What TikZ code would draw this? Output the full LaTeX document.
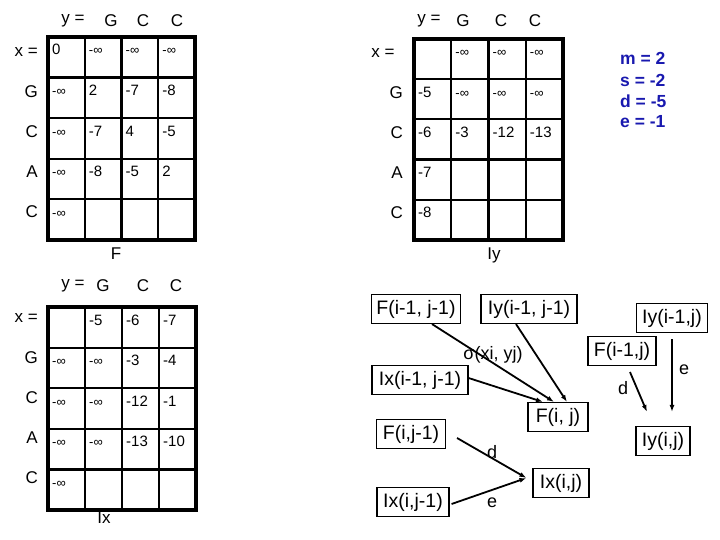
\documentclass[tikz,border=0pt]{standalone}
\usepackage{fontspec}
\setmainfont{Liberation Sans}
\usetikzlibrary{arrows.meta}
\definecolor{parblue}{RGB}{25,25,175}
\newcommand{\ninf}{{\fontsize{13}{15}\selectfont -∞}}
\tikzset{
  gridline/.style={line width=2.2pt},
  gridframe/.style={line width=3.2pt},
  cellval/.style={anchor=base west, inner sep=0pt, font=\fontsize{15}{17}\selectfont},
  axislabel/.style={inner sep=0pt, font=\fontsize{17}{20}\selectfont},
  recbox/.style={draw, line width=1.1pt, inner sep=2pt, minimum height=29pt, font=\fontsize{19.5}{22}\selectfont},
  steplabel/.style={inner sep=0pt, font=\fontsize{18}{21}\selectfont},
  param/.style={anchor=west, inner sep=0pt, text=parblue, font=\bfseries\fontsize{17.5}{20}\selectfont}
}
\begin{document}
\begin{tikzpicture}[x=1pt,y=-1pt,>={Latex[length=7pt,width=5pt]}]
        \useasboundingbox (0,0) rectangle (720,540);

        % matrix F
        \begin{scope}[shift={(48,37)}]
                \def\cw{36.75}\def\ch{40.6}
                \foreach \c in {1,2,3}
                        \draw[gridline] (\c*\cw,0) -- (\c*\cw,5*\ch);
                \foreach \r in {1,...,4}
                        \draw[gridline] (0,\r*\ch) -- (4*\cw,\r*\ch);
                \draw[gridframe] (0,0) rectangle (4*\cw,5*\ch);
                \foreach \r/\c/\v in {
                    0/0/0, 0/1/\ninf, 0/2/\ninf, 0/3/\ninf,
                    1/0/\ninf, 1/1/2, 1/2/-7, 1/3/-8,
                    2/0/\ninf, 2/1/-7, 2/2/4, 2/3/-5,
                    3/0/\ninf, 3/1/-8, 3/2/-5, 3/3/2,
                    4/0/\ninf}
                        \node[cellval] (f\r\c) at (\c*\cw+4,\r*\ch+18) {\v};
        \end{scope}
        \foreach \x/\l in {73/y =, 111/G, 143/C, 177/C}
                \node[axislabel] (fy\x) at (\x,21) {\l};
        \foreach \y/\l in {52/x =, 92/G, 132/C, 172/A, 212/C}
                \node[axislabel, anchor=east] (fx\y) at (38,\y) {\l};
        \node[axislabel] (ftitle) at (116,254) {F};

        % matrix Iy
        \begin{scope}[shift={(414,39)}]
                \def\cw{37.25}\def\ch{40.2}
                \foreach \c in {1,2,3}
                        \draw[gridline] (\c*\cw,0) -- (\c*\cw,5*\ch);
                \foreach \r in {1,...,4}
                        \draw[gridline] (0,\r*\ch) -- (4*\cw,\r*\ch);
                \draw[gridframe] (0,0) rectangle (4*\cw,5*\ch);
                \foreach \r/\c/\v in {
                    0/1/\ninf, 0/2/\ninf, 0/3/\ninf,
                    1/0/-5, 1/1/\ninf, 1/2/\ninf, 1/3/\ninf,
                    2/0/-6, 2/1/-3, 2/2/-12, 2/3/-13,
                    3/0/-7,
                    4/0/-8}
                        \node[cellval] (iy\r\c) at (\c*\cw+4,\r*\ch+18) {\v};
        \end{scope}
        \foreach \x/\l in {429/y =, 463/G, 501/C, 535/C}
                \node[axislabel] (iyy\x) at (\x,21) {\l};
        \node[axislabel] (iyx) at (383,53) {x =};
        \foreach \y/\l in {93/G, 133/C, 173/A, 213/C}
                \node[axislabel, anchor=east] (iyx\y) at (403,\y) {\l};
        \node[axislabel] (iytitle) at (494,255) {Iy};

        % scoring parameters
        \foreach \y/\l in {58/m = 2, 80/s = -2, 101/d = -5, 122/e = -1}
                \node[param] (p\y) at (620,\y) {\l};

        % matrix Ix
        \begin{scope}[shift={(48,307)}]
                \def\cw{37}\def\ch{40.6}
                \foreach \c in {1,2,3}
                        \draw[gridline] (\c*\cw,0) -- (\c*\cw,5*\ch);
                \foreach \r in {1,...,4}
                        \draw[gridline] (0,\r*\ch) -- (4*\cw,\r*\ch);
                \draw[gridframe] (0,0) rectangle (4*\cw,5*\ch);
                \foreach \r/\c/\v in {
                    0/1/-5, 0/2/-6, 0/3/-7,
                    1/0/\ninf, 1/1/\ninf, 1/2/-3, 1/3/-4,
                    2/0/\ninf, 2/1/\ninf, 2/2/-12, 2/3/-1,
                    3/0/\ninf, 3/1/\ninf, 3/2/-13, 3/3/-10,
                    4/0/\ninf}
                        \node[cellval] (ix\r\c) at (\c*\cw+4,\r*\ch+18) {\v};
        \end{scope}
        \foreach \x/\l in {73/y =, 103/G, 143/C, 176/C}
                \node[axislabel] (ixy\x) at (\x,286) {\l};
        \foreach \y/\l in {318/x =, 358/G, 398/C, 438/A, 478/C}
                \node[axislabel, anchor=east] (ixx\y) at (38,\y) {\l};
        \node[axislabel] (ixtitle) at (104,518) {Ix};

        % recurrence boxes
        \node[recbox, minimum width=89pt] (fa)   at (416,309) {F(i-1, j-1)};
        \node[recbox, minimum width=96pt] (iya)  at (529,309) {Iy(i-1, j-1)};
        \node[recbox, minimum width=71pt] (iyb)  at (672,318) {Iy(i-1,j)};
        \node[recbox, minimum width=68pt] (fb)   at (622,351) {F(i-1,j)};
        \node[recbox, minimum width=96pt] (ixa)  at (420,380) {Ix(i-1, j-1)};
        \node[recbox, minimum width=60pt] (fij)  at (558,417) {F(i, j)};
        \node[recbox, minimum width=69pt] (fc)   at (411,434) {F(i,j-1)};
        \node[recbox, minimum width=54pt] (iyij) at (663,441) {Iy(i,j)};
        \node[recbox, minimum width=56pt] (ixij) at (561,483) {Ix(i,j)};
        \node[recbox, minimum width=72pt] (ixb)  at (413,502) {Ix(i,j-1)};

        % arrows into F(i,j)
        \draw[->, line width=1.8pt] ([shift={(16,0)}]fa.south) -- ([shift={(-4,0)}]fij.north);
        \draw[->, line width=1.8pt] ([shift={(-13,0)}]iya.south) -- ([shift={(9,0)}]fij.north);
        \draw[->, line width=1.8pt] ([shift={(0,-2)}]ixa.east) -- ([shift={(-15,0)}]fij.north);
        \node[steplabel] (sig) at (493,355) {σ(xi, yj)};

        % arrows into Iy(i,j)
        \draw[->, line width=1.8pt] ([shift={(8,6)}]fb.south) -- ([shift={(-16,-14)}]iyij.north);
        \draw[->, line width=1.8pt] ([shift={(0,6)}]iyb.south) -- ([shift={(9,-14)}]iyij.north);
        \node[steplabel] (dy) at (623,388) {d};
        \node[steplabel] (ey) at (684,370) {e};

        % arrows into Ix(i,j)
        \draw[->, line width=1.8pt] ([shift={(11,4)}]fc.east) -- ([shift={(-6,-5)}]ixij.west);
        \draw[->, line width=1.8pt] ([shift={(2,2)}]ixb.east) -- ([shift={(-6,-5)}]ixij.west);
        \node[steplabel] (dx) at (492,452) {d};
        \node[steplabel] (ex) at (492,503) {e};
\end{tikzpicture}
\end{document}
